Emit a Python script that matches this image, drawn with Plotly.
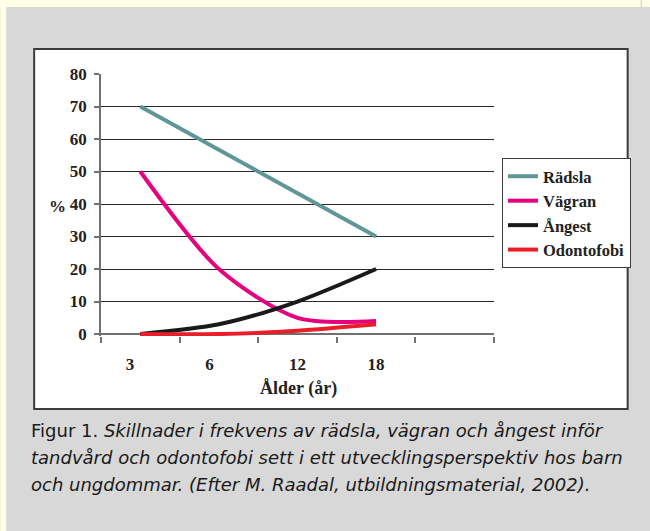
import plotly.graph_objects as go

# ---- data ----
ages = ["3", "6", "12", "18"]
radsla = [70, None, None, 30]
vagran = [50, 20, 5, 4]
angest = [0, 3, 10, 20]
odontofobi = [0, 0, 1, 3]
series_names = ["Rädsla", "Vägran", "Ångest", "Odontofobi"]
y_ticks = [0, 10, 20, 30, 40, 50, 60, 70, 80]

colors = ["#5F9696", "#E6007E", "#1A1A1A", "#E81E28"]
series = [radsla, vagran, angest, odontofobi]

W, H = 642, 531
L, R, T, B = 101, 495, 74, 336  # plot area in page px


def px(x):
    return (x - L) / (R - L)


def py(y):
    return (B - y) / (B - T)


xs = list(range(len(ages)))
label_pos = [-0.13, 0.88, 2, 3]  # tick label placement (style)

fig = go.Figure()
for i, (name, vals, col) in enumerate(zip(series_names, series, colors)):
    fig.add_trace(go.Scatter(
        x=xs, y=vals, name=name, mode="lines",
        connectgaps=True,
        line=dict(color=col, width=4, shape="spline", smoothing=0.8),
        legendgroup=f"g{i}",
    ))

serif = "Liberation Serif, Times New Roman, serif"
sans = "DejaVu Sans, sans-serif"

shapes = [
    dict(type="rect", xref="paper", yref="paper", x0=px(0), x1=px(W), y0=py(0), y1=py(7),
         fillcolor="#FFFFE6", line=dict(width=0), layer="below"),
    dict(type="rect", xref="paper", yref="paper", x0=px(0), x1=px(6), y0=py(0), y1=py(H),
         fillcolor="#FFFFE6", line=dict(width=0), layer="below"),
    dict(type="rect", xref="paper", yref="paper", x0=px(34), x1=px(629), y0=py(49), y1=py(409),
         fillcolor="white", line=dict(color="#3C3C3C", width=2), layer="below"),
]

cap_font = dict(family=sans, size=18, color="#1A1A1A")
annotations = [
    dict(text="%", xref="paper", yref="paper", x=px(57), y=py(206), showarrow=False,
         xanchor="center", yanchor="middle", font=dict(family=serif, size=17, color="#222", weight="bold")),
    dict(text="Ålder (år)", xref="paper", yref="paper", x=px(299), y=py(388), showarrow=False,
         xanchor="center", yanchor="middle", font=dict(family=serif, size=18, color="#222", weight="bold")),
    dict(text="Figur 1. <i>Skillnader i frekvens av rädsla, vägran och ångest inför</i>",
         xref="paper", yref="paper", x=px(29), y=py(430), showarrow=False,
         xanchor="left", yanchor="middle", font=cap_font),
    dict(text="<i>tandvård och odontofobi sett i ett utvecklingsperspektiv hos barn</i>",
         xref="paper", yref="paper", x=px(29), y=py(457), showarrow=False,
         xanchor="left", yanchor="middle", font=cap_font),
    dict(text="<i>och ungdommar. (Efter M. Raadal, utbildningsmaterial, 2002).</i>",
         xref="paper", yref="paper", x=px(29), y=py(484), showarrow=False,
         xanchor="left", yanchor="middle", font=cap_font),
]

fig.update_layout(
    width=W, height=H,
    margin=dict(l=L, r=W - R, t=T, b=H - B, pad=0),
    paper_bgcolor="#D8D8D8",
    plot_bgcolor="rgba(0,0,0,0)",
    shapes=shapes,
    annotations=annotations,
    showlegend=True,
    legend=dict(
        x=px(502), y=py(158), xanchor="left", yanchor="top",
        bgcolor="white", bordercolor="#3C3C3C", borderwidth=1,
        font=dict(family=serif, size=16.5, color="#222", weight="bold"),
        tracegroupgap=0, itemwidth=30,
    ),
    xaxis=dict(
        range=[-0.5, 4.5], tickmode="array", tickvals=label_pos, ticktext=ages,
        ticks="", showgrid=False, zeroline=False, showline=False,
        tickfont=dict(family=serif, size=17, color="#222", weight="bold"),
        ticklabelstandoff=16,
        minor=dict(tickmode="linear", tick0=-0.5, dtick=1, ticks="outside", ticklen=6,
                   tickcolor="#707070", tickwidth=1.5, showgrid=False),
    ),
    yaxis=dict(
        range=[-0.6, 80], tickmode="array", tickvals=y_ticks,
        ticks="outside", ticklen=5, tickcolor="#707070", tickwidth=1.5,
        showgrid=True, gridcolor="#2A2A2A", gridwidth=1,
        zeroline=True, zerolinecolor="#707070", zerolinewidth=1.5,
        showline=True, linecolor="#707070", linewidth=1.5,
        tickfont=dict(family=serif, size=17, color="#222", weight="bold"),
        ticklabelstandoff=4,
    ),
)

fig.write_html(
    "out.html",
    config={"displayModeBar": False},
    post_script=(
        "document.documentElement.style.overflow='hidden';"
        "document.documentElement.style.background="
        "'linear-gradient(#FFFFE6 0px, #FFFFE6 7px, #D8D8D8 7px) no-repeat, #D8D8D8';"
        "document.body.style.margin='0';"
        "document.body.style.overflow='hidden';"
        "document.body.style.background='transparent';"
    ),
)
